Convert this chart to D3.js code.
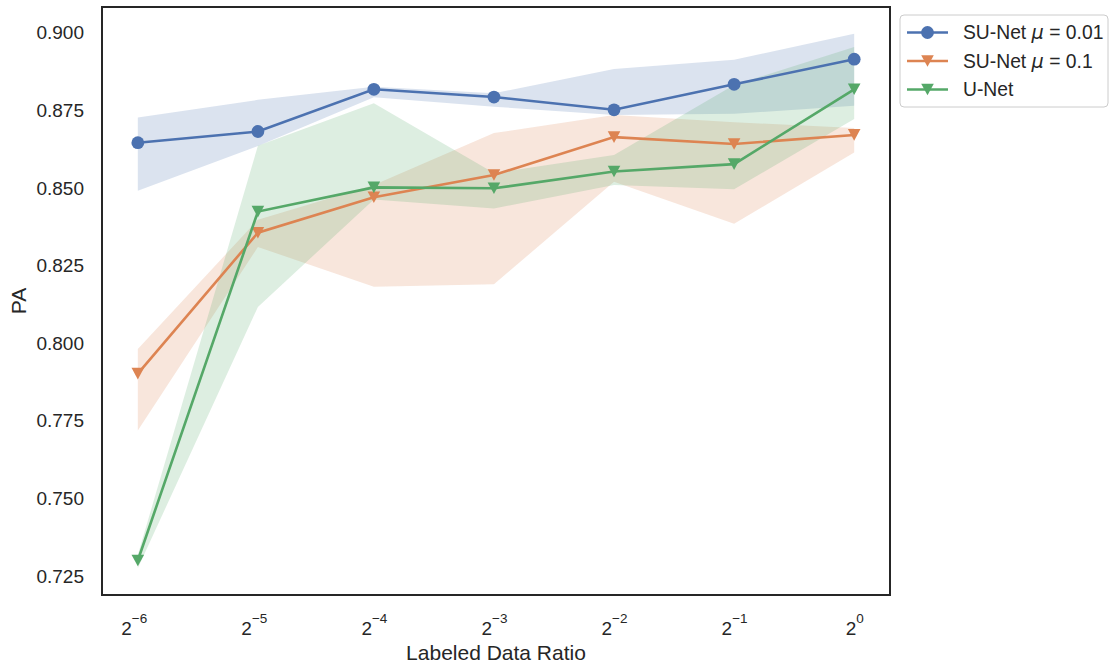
<!DOCTYPE html>
<html>
<head>
<meta charset="utf-8">
<script src="https://cdn.jsdelivr.net/npm/d3@7"></script>
<style>
  body { margin: 0; background: #fff; }
  text { font-family: "Liberation Sans", Arial, sans-serif; fill: #262626; }
</style>
</head>
<body>
<svg width="1112" height="666"></svg>
<script>
// labeled data ratio (x) and tick exponents
const ratios = [0.016, 0.032, 0.0625, 0.125, 0.25, 0.5, 1];
const tickExps = [-6, -5, -4, -3, -2, -1, 0];
const yTicks = [0.725, 0.75, 0.775, 0.8, 0.825, 0.85, 0.875, 0.9];

// SU-Net mu = 0.01
const su001Mean = [0.8646, 0.8682, 0.8818, 0.8793, 0.8752, 0.8834, 0.8915];
const su001Lo   = [0.8491, 0.8635, 0.8792, 0.8762, 0.8735, 0.8739, 0.8765];
const su001Hi   = [0.8727, 0.8784, 0.8826, 0.8805, 0.8883, 0.8913, 0.8997];
// SU-Net mu = 0.1
const su01Mean = [0.7902, 0.8356, 0.8470, 0.8542, 0.8664, 0.8642, 0.8671];
const su01Lo   = [0.7719, 0.8310, 0.8182, 0.8190, 0.8520, 0.8385, 0.8614];
const su01Hi   = [0.7981, 0.8398, 0.8510, 0.8677, 0.8735, 0.8712, 0.8693];
// U-Net
const unetMean = [0.7300, 0.8424, 0.8502, 0.8499, 0.8553, 0.8577, 0.8818];
const unetLo   = [0.7275, 0.8117, 0.8463, 0.8434, 0.8510, 0.8496, 0.8722];
const unetHi   = [0.7318, 0.8636, 0.8773, 0.8548, 0.8606, 0.8832, 0.8954];

const seriesNames = ['SU-Net μ = 0.01', 'SU-Net μ = 0.1', 'U-Net'];

const series = [
  { name: seriesNames[0], color: '#4c72b0', marker: 'circle', mean: su001Mean, lo: su001Lo, hi: su001Hi },
  { name: seriesNames[1], color: '#dd8452', marker: 'tri', mean: su01Mean, lo: su01Lo, hi: su01Hi },
  { name: seriesNames[2], color: '#55a868', marker: 'tri', mean: unetMean, lo: unetLo, hi: unetHi },
];

const svg = d3.select('svg');
const margin = { top: 7, right: 222, bottom: 71, left: 102 };
const width = 1112 - margin.left - margin.right;
const height = 666 - margin.top - margin.bottom;
const g = svg.append('g').attr('transform', `translate(${margin.left},${margin.top})`);

// matplotlib style 5% margins
const lx = Math.log2(d3.min(ratios)), hx = Math.log2(d3.max(ratios));
const mx = (hx - lx) * 0.05;
const x = d3.scaleLog().base(2)
  .domain([Math.pow(2, lx - mx), Math.pow(2, hx + mx)])
  .range([0, width]);

const allY = [].concat(...series.map(s => s.lo.concat(s.hi, s.mean)));
const ly = d3.min(allY), hy = d3.max(allY);
const my = (hy - ly) * 0.05;
const y = d3.scaleLinear().domain([ly - my, hy + my]).range([height, 0]);

// bands
series.forEach(s => {
  const area = d3.area()
    .x((d, i) => x(ratios[i]))
    .y0((d, i) => y(s.lo[i]))
    .y1((d, i) => y(s.hi[i]));
  g.append('path')
    .datum(s.mean)
    .attr('d', area)
    .attr('fill', s.color)
    .attr('fill-opacity', 0.2);
});

const triPath = 'M-6.3,-5.8L6.3,-5.8L0,5.8Z';

function drawMarker(sel, s) {
  if (s.marker === 'circle') {
    sel.append('circle').attr('r', 6.4).attr('fill', s.color);
  } else {
    sel.append('path').attr('d', triPath).attr('fill', s.color);
  }
}

// lines + markers
series.forEach(s => {
  const line = d3.line()
    .x((d, i) => x(ratios[i]))
    .y(d => y(d));
  g.append('path')
    .datum(s.mean)
    .attr('d', line)
    .attr('fill', 'none')
    .attr('stroke', s.color)
    .attr('stroke-width', 2.6);
  s.mean.forEach((v, i) => {
    const m = g.append('g').attr('transform', `translate(${x(ratios[i])},${y(v)})`);
    drawMarker(m, s);
  });
});

// y axis
const yAxis = g.append('g')
  .call(d3.axisLeft(y).tickValues(yTicks).tickSize(0).tickPadding(18).tickFormat(d3.format('.3f')));
yAxis.select('.domain').remove();
yAxis.selectAll('text').attr('font-size', '19px').attr('fill', '#262626')
  .style('font-family', '"Liberation Sans", Arial, sans-serif');

// x axis with power-of-two labels
const xAxis = g.append('g')
  .attr('transform', `translate(0,${height})`)
  .call(d3.axisBottom(x).tickValues(tickExps.map(e => Math.pow(2, e))).tickSize(0).tickFormat(''));
xAxis.select('.domain').remove();
xAxis.selectAll('.tick').each(function (d, i) {
  const t = d3.select(this).select('text')
    .attr('y', 40).attr('dy', null)
    .attr('font-size', '19px').attr('fill', '#262626')
    .style('font-family', '"Liberation Sans", Arial, sans-serif');
  t.text(null);
  t.append('tspan').text('2');
  t.append('tspan').attr('dy', -12).attr('font-size', '13.5px')
    .text(tickExps[i] === 0 ? '0' : '\u2212' + Math.abs(tickExps[i]));
});

// frame
g.append('rect')
  .attr('width', width).attr('height', height)
  .attr('fill', 'none').attr('stroke', '#262626').attr('stroke-width', 2);

// axis titles
svg.append('text')
  .attr('x', margin.left + width / 2).attr('y', 660)
  .attr('text-anchor', 'middle').attr('font-size', '21px')
  .text('Labeled Data Ratio');
svg.append('text')
  .attr('transform', `translate(26,${margin.top + height / 2}) rotate(-90)`)
  .attr('text-anchor', 'middle').attr('font-size', '21px')
  .text('PA');

// legend
const legend = svg.append('g').attr('transform', 'translate(900,15)');
legend.append('rect')
  .attr('width', 208).attr('height', 92).attr('rx', 4)
  .attr('fill', '#fff').attr('stroke', '#cccccc').attr('stroke-width', 1);
series.forEach((s, i) => {
  const row = legend.append('g').attr('transform', `translate(0,${17.5 + i * 28.5})`);
  row.append('line').attr('x1', 7).attr('x2', 48)
    .attr('stroke', s.color).attr('stroke-width', 2.6);
  const m = row.append('g').attr('transform', 'translate(27.5,0)');
  drawMarker(m, s);
  const t = row.append('text').attr('x', 63).attr('y', 6.8).attr('font-size', '19.3px');
  const parts = s.name.split('μ');
  t.append('tspan').text(parts[0]);
  if (parts.length > 1) {
    t.append('tspan').attr('font-style', 'italic').style('font-family', '"DejaVu Sans", sans-serif').text('μ');
    t.append('tspan').text(parts[1]);
  }
});
</script>
</body>
</html>
